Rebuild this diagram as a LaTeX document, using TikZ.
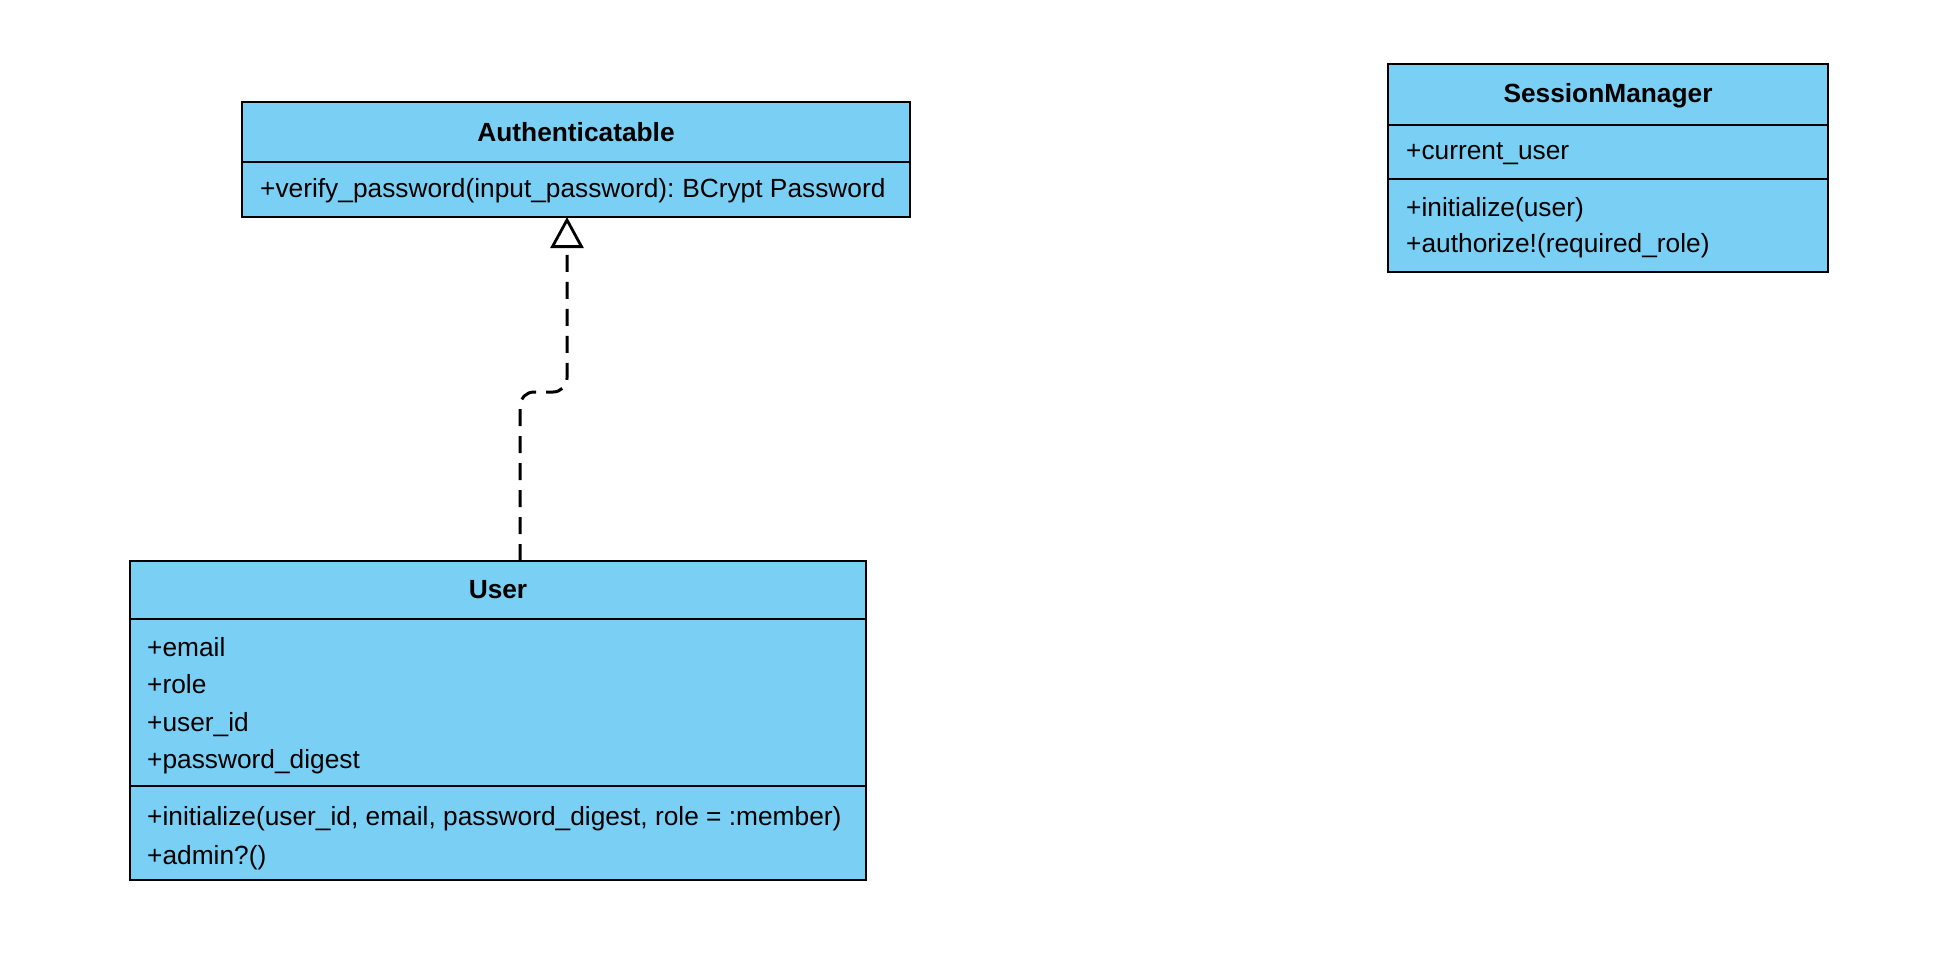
\documentclass[tikz,border=0pt]{standalone}
\usepackage{fontspec}
\setmainfont{Liberation Sans}
\usetikzlibrary{arrows.meta}
\definecolor{classfill}{RGB}{122,207,244}
\begin{document}
\begin{tikzpicture}[x=1pt,y=-1pt,
  classbox/.style={draw=black, line width=2.2pt, fill=classfill, anchor=north west, inner sep=0pt, outer sep=0pt},
  classtitle/.style={font=\fontsize{26.3}{30}\selectfont\bfseries, anchor=base, inner sep=0pt},
  member/.style={font=\fontsize{26.3}{30}\selectfont, anchor=base west, inner sep=0pt},
  divider/.style={line width=2.2pt},
  realize/.style={line width=3pt, dash pattern=on 17pt off 10pt, rounded corners=14pt,
    -{Triangle[length=31pt,width=33pt,fill=white,line width=2.8pt]}}]
\fill[white] (0,0) rectangle (1954,967);
\useasboundingbox (0,0) rectangle (1954,967);

% Authenticatable
\node[classbox, minimum width=668pt, minimum height=115pt] (auth) at (242,102) {};
\draw[divider] (242,162) -- (910,162);
\node[classtitle] (authT) at (576,141) {Authenticatable};
\node[member] (authM1) at (260,197) {+verify\_password(input\_password):\kern-2pt{} BCrypt Password};

% SessionManager
\node[classbox, minimum width=440pt, minimum height=208pt] (sess) at (1388,64) {};
\draw[divider] (1388,125) -- (1828,125);
\draw[divider] (1388,179) -- (1828,179);
\node[classtitle] (sessT) at (1608,102) {SessionManager};
\node[member] (sessA1) at (1406,159) {+current\_user};
\node[member] (sessM1) at (1406,216) {+initialize(user)};
\node[member] (sessM2) at (1406,252) {+authorize!(required\_role)};

% User
\node[classbox, minimum width=736pt, minimum height=319pt] (user) at (130,561) {};
\draw[divider] (130,619) -- (866,619);
\draw[divider] (130,786) -- (866,786);
\node[classtitle] (userT) at (498,598) {User};
\node[member] (userA1) at (147,656) {+email};
\node[member] (userA2) at (147,693) {+role};
\node[member] (userA3) at (147,731) {+user\_id};
\node[member] (userA4) at (147,768) {+password\_digest};
\node[member] (userM1) at (147,825) {+initialize(user\_id, email, password\_digest, role = :member)};
\node[member] (userM2) at (147,864) {+admin?()};

% realization
\coordinate (lowx) at (520,0);
\coordinate (highx) at (567,0);
\draw[realize] (user.north -| lowx) -- (520,392) -- (567,392) -- (auth.south -| highx);
\end{tikzpicture}
\end{document}
